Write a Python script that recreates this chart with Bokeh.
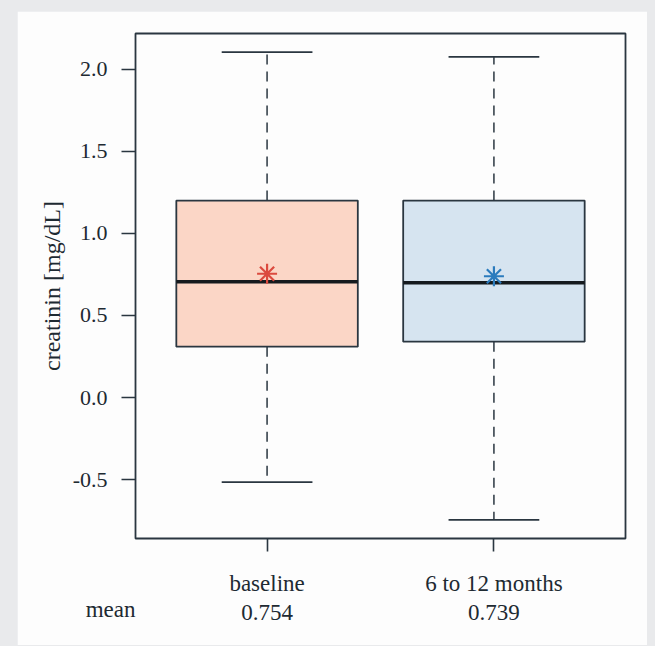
from bokeh.plotting import figure
from bokeh.models import ColumnDataSource, LinearAxis, FixedTicker, PrintfTickFormatter, Range1d
from bokeh.layouts import column
from bokeh.embed import file_html
from bokeh.resources import INLINE

# ---- data ----
categories = ["baseline", "6 to 12 months"]
lower_whisker = [-0.515, -0.745]
q1 = [0.31, 0.34]
median = [0.705, 0.70]
q3 = [1.20, 1.20]
upper_whisker = [2.105, 2.075]
means = [0.754, 0.739]
mean_row_label = "mean"
y_ticks = [-0.5, 0.0, 0.5, 1.0, 1.5, 2.0]

# ---- style ----
box_fill = ["#fbd6c6", "#d6e4f0"]
star_color = ["#db4a3e", "#2b7bbd"]
ink = "#2a3640"
text_col = "#1e2a32"
FONT = "Liberation Serif"
FS = "23px"
HALF = 0.4
CAP = 0.2
X_START, X_END = 0.42, 2.58

xs = [i + 1 for i in range(len(categories))]
src = ColumnDataSource(dict(
    x=xs,
    left=[x - HALF for x in xs], right=[x + HALF for x in xs],
    cl=[x - CAP for x in xs], cr=[x + CAP for x in xs],
    lower=lower_whisker, q1=q1, median=median, q3=q3, upper=upper_whisker,
    mean=means, fill=box_fill, star=star_color,
))

p = figure(width=630, height=634, x_range=Range1d(X_START, X_END), y_range=Range1d(-0.859, 2.218),
           output_backend="svg", toolbar_location=None)
p.min_border_left = 118
p.min_border_right = 22
p.min_border_top = 22
p.min_border_bottom = 107
p.background_fill_color = "#fdfdfd"
p.border_fill_color = "#fdfdfd"
p.outline_line_color = ink
p.outline_line_width = 1.8
p.outline_line_alpha = 1.0
p.xgrid.visible = False
p.ygrid.visible = False
p.margin = (11, 8, 1, 17)

# boxes
p.quad(left="left", right="right", bottom="q1", top="q3", fill_color="fill",
       line_color=ink, line_width=1.8, source=src)
# whiskers
p.segment(x0="x", y0="q3", x1="x", y1="upper", line_color=ink, line_width=1.5,
          line_dash="10 7", source=src)
p.segment(x0="x", y0="q1", x1="x", y1="lower", line_color=ink, line_width=1.5,
          line_dash="10 7", source=src)
# caps
p.segment(x0="cl", y0="upper", x1="cr", y1="upper", line_color=ink, line_width=1.8, source=src)
p.segment(x0="cl", y0="lower", x1="cr", y1="lower", line_color=ink, line_width=1.8, source=src)
# medians
p.segment(x0="left", y0="median", x1="right", y1="median", line_color="#151a1e",
          line_width=3.5, source=src)
# means
p.scatter(x="x", y="mean", marker="asterisk", size=20, line_color="star",
          line_width=2.2, source=src)

# y axis
ya = p.yaxis[0]
ya.ticker = FixedTicker(ticks=y_ticks)
ya.formatter = PrintfTickFormatter(format="%.1f")
ya.axis_line_color = None
ya.major_tick_out = 14
ya.major_tick_in = 0
ya.minor_tick_line_color = None
ya.major_tick_line_color = ink
ya.major_tick_line_width = 1.6
ya.major_label_standoff = 14
ya.major_label_text_font = FONT
ya.major_label_text_font_size = "22px"
ya.major_label_text_color = text_col
ya.axis_label = "creatinin [mg/dL]"
ya.axis_label_text_font = FONT
ya.axis_label_text_font_size = "24px"
ya.axis_label_text_font_style = "normal"
ya.axis_label_text_color = text_col
ya.axis_label_standoff = 5


def style_text_axis(ax, standoff):
    ax.axis_line_color = None
    ax.minor_tick_line_color = None
    ax.major_tick_in = 0
    ax.major_label_standoff = standoff
    ax.major_label_text_font = FONT
    ax.major_label_text_font_size = FS
    ax.major_label_text_color = text_col


# x axis (category names)
xa = p.xaxis[0]
xa.ticker = FixedTicker(ticks=xs)
xa.major_label_overrides = {x: c for x, c in zip(xs, categories)}
style_text_axis(xa, 19)
xa.major_tick_out = 13
xa.major_tick_line_color = ink
xa.major_tick_line_width = 1.6

# second x axis (mean values)
xa2 = LinearAxis(ticker=FixedTicker(ticks=xs),
                 major_label_overrides={x: f"{m:.3f}" for x, m in zip(xs, means)})
style_text_axis(xa2, 6)
xa2.major_tick_out = 0
xa2.major_tick_line_color = None
p.add_layout(xa2, "below")

# third x axis: caption of the mean row, right-aligned at the frame's left edge
xa3 = LinearAxis(ticker=FixedTicker(ticks=[X_START]),
                 major_label_overrides={X_START: mean_row_label},
                 major_label_orientation=1e-6)
style_text_axis(xa3, -13)
xa3.major_tick_out = 0
xa3.major_tick_line_color = None
p.add_layout(xa3, "below")

layout = column(p, styles={"background-color": "#e9eaec"})
open("out.html", "w").write(file_html(layout, INLINE))
